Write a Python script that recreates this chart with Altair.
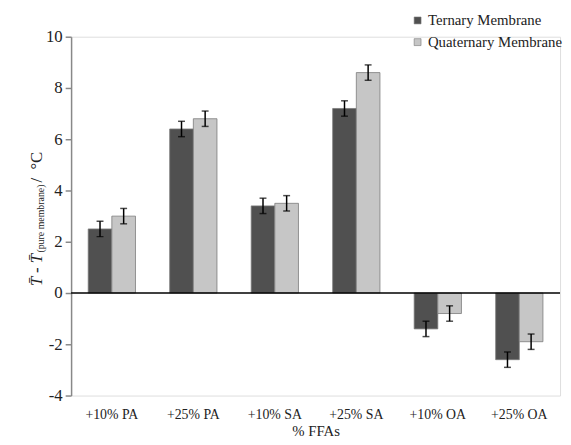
import altair as alt
import pandas as pd

categories = ["+10% PA", "+25% PA", "+10% SA", "+25% SA", "+10% OA", "+25% OA"]
series = ["Ternary Membrane", "Quaternary Membrane"]
ternary = [2.5, 6.4, 3.4, 7.2, -1.4, -2.6]
quaternary = [3.0, 6.8, 3.5, 8.6, -0.8, -1.9]
ternary_err = [0.3, 0.3, 0.3, 0.3, 0.3, 0.3]
quaternary_err = [0.3, 0.3, 0.3, 0.3, 0.3, 0.3]
y_ticks = [-4, -2, 0, 2, 4, 6, 8, 10]

rows = []
for c, v, e in zip(categories, ternary, ternary_err):
    rows.append({"cat": c, "series": series[0], "v": v, "lo": v - e, "hi": v + e})
for c, v, e in zip(categories, quaternary, quaternary_err):
    rows.append({"cat": c, "series": series[1], "v": v, "lo": v - e, "hi": v + e})
df = pd.DataFrame(rows)

FONT = "'Liberation Serif', 'Times New Roman', Times, serif"

x_enc = alt.X("cat:N", sort=categories, title="% FFAs",
              scale=alt.Scale(paddingInner=0.42, paddingOuter=0.21),
              axis=alt.Axis(labelAngle=0, domain=False, ticks=False, labelPadding=12,
                            labelFontSize=14, titleFontSize=15, titlePadding=3,
                            labelFont=FONT, titleFont=FONT, labelColor="#222",
                            titleColor="#222", titleFontWeight="normal"))
xo_enc = alt.XOffset("series:N", sort=series, scale=alt.Scale(paddingInner=0, paddingOuter=0))
y_scale = alt.Scale(domain=[-4, 10], nice=False)

base = alt.Chart(df)

bars = base.mark_bar(stroke="#7a7a7a", strokeWidth=0.8).encode(
    x=x_enc,
    xOffset=xo_enc,
    y=alt.Y("v:Q", scale=y_scale, title=None,
            axis=alt.Axis(values=y_ticks, grid=False, domainColor="#888", domainWidth=1.5,
                          tickColor="#888", tickWidth=1.5, tickSize=6, labelPadding=3,
                          labelExpr="toString(datum.value)",
                          labelFontSize=17, labelFont=FONT, labelColor="#222")),
    color=alt.Color("series:N", sort=series,
                    scale=alt.Scale(domain=series, range=["#505050", "#c6c6c6"]),
                    legend=alt.Legend(title=None, orient="none", legendX=344, legendY=-24,
                                      symbolType="square", symbolSize=49,
                                      symbolStrokeColor="#777", symbolStrokeWidth=0.6,
                                      labelFont=FONT, labelFontSize=15, labelColor="#222",
                                      rowPadding=6, labelOffset=3)),
)

err = base.mark_rule(color="black", strokeWidth=1.5).encode(
    x=alt.X("cat:N", sort=categories), xOffset=xo_enc,
    y=alt.Y("lo:Q", scale=y_scale), y2="hi:Q")
cap_lo = base.mark_tick(color="black", thickness=1.5, size=7).encode(
    x=alt.X("cat:N", sort=categories), xOffset=xo_enc, y=alt.Y("lo:Q", scale=y_scale))
cap_hi = base.mark_tick(color="black", thickness=1.5, size=7).encode(
    x=alt.X("cat:N", sort=categories), xOffset=xo_enc, y=alt.Y("hi:Q", scale=y_scale))

zero = alt.Chart(pd.DataFrame({"z": [0]})).mark_rule(color="black", strokeWidth=1.5).encode(
    y=alt.Y("z:Q", scale=y_scale))

one = pd.DataFrame({"a": [0]})
t1 = alt.Chart(one).mark_text(text="T\u0304 - T\u0304", font=FONT, fontSize=17, fontStyle="italic",
                              angle=270, align="left", baseline="alphabetic", color="#222").encode(
    x=alt.value(-30), y=alt.value(253))
t2 = alt.Chart(one).mark_text(text="(pure membrane)", font=FONT, fontSize=10,
                              angle=270, align="left", baseline="alphabetic", color="#222").encode(
    x=alt.value(-27), y=alt.value(219))
t3 = alt.Chart(one).mark_text(text="/\u00a0\u00a0\u00b0C", font=FONT, fontSize=17,
                              angle=270, align="left", baseline="alphabetic", color="#222").encode(
    x=alt.value(-30), y=alt.value(148))

chart = alt.layer(bars, zero, err, cap_lo, cap_hi, t1, t2, t3).properties(
    width=496, height=364,
    autosize=alt.AutoSizeParams(type="none"),
    padding={"left": 64, "top": 26, "right": 3, "bottom": 44},
).configure_view(stroke=None).configure(background="white")

chart.save("out.html", embed_options={"renderer": "svg", "actions": False})
